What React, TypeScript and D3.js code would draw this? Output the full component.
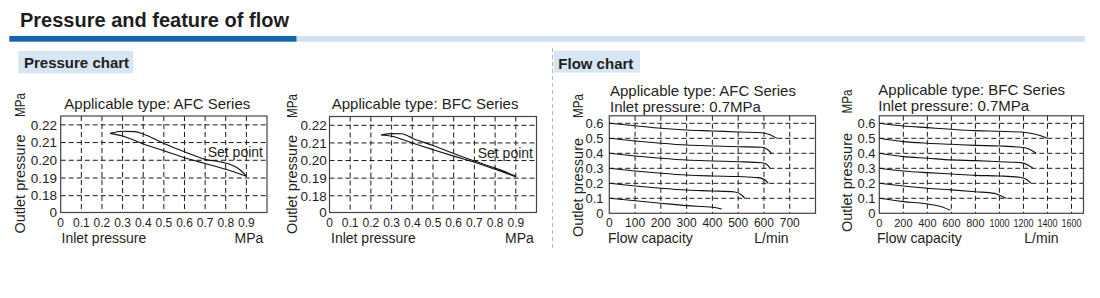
import React from "react";
import * as d3 from "d3";

const FONT = "'Liberation Sans', Arial, Helvetica, sans-serif";
const INK = "#231f20";

// ---------- Pressure charts (outlet vs inlet pressure) ----------
const pressureXTicks = [0, 0.1, 0.2, 0.3, 0.4, 0.5, 0.6, 0.7, 0.8, 0.9];
const pressureXLabels = ["0", "0.1", "0.2", "0.3", "0.4", "0.5", "0.6", "0.7", "0.8", "0.9"];
const pressureXGrid = [0.1, 0.2, 0.3, 0.4, 0.5, 0.6, 0.7, 0.8, 0.9];
const pressureXDomain = [0, 1.0];
const pressureYDomain = [0.1705, 0.225]; // broken axis: bottom edge is labelled "0"
const pressureYTicks = [0.1705, 0.18, 0.19, 0.2, 0.21, 0.22];
const pressureYLabels = ["0", "0.18", "0.19", "0.20", "0.21", "0.22"];
const pressureYGrid = [0.18, 0.19, 0.2, 0.21, 0.22];

const afcPressureUpper: [number, number][] = [
  [0.24, 0.2152], [0.3, 0.2164], [0.36, 0.2162], [0.4, 0.2148], [0.5, 0.2095],
  [0.6, 0.2048], [0.7, 0.2005], [0.77, 0.1992], [0.82, 0.1977], [0.87, 0.1945], [0.9, 0.191],
];
const afcPressureLower: [number, number][] = [
  [0.24, 0.2152], [0.3, 0.2137], [0.4, 0.2092], [0.5, 0.2054], [0.6, 0.2014],
  [0.7, 0.1982], [0.8, 0.1949], [0.9, 0.191],
];
const bfcPressureUpper: [number, number][] = [
  [0.25, 0.2145], [0.3, 0.2153], [0.35, 0.2152], [0.4, 0.2127], [0.5, 0.2085],
  [0.6, 0.204], [0.7, 0.1997], [0.8, 0.1957], [0.9, 0.1912],
];
const bfcPressureLower: [number, number][] = [
  [0.25, 0.2145], [0.3, 0.2138], [0.4, 0.21], [0.5, 0.2062], [0.6, 0.2025],
  [0.7, 0.199], [0.8, 0.195], [0.9, 0.1908],
];

// ---------- Flow charts (outlet pressure vs flow) ----------
const flowYDomain = [0, 0.65];
const flowYTicks = [0, 0.1, 0.2, 0.3, 0.4, 0.5, 0.6];
const flowYLabels = ["0", "0.1", "0.2", "0.3", "0.4", "0.5", "0.6"];
const flowYGrid = [0.1, 0.2, 0.3, 0.4, 0.5, 0.6];

const afcFlowXDomain = [0, 800];
const afcFlowXTicks = [0, 100, 200, 300, 400, 500, 600, 700];
const afcFlowXLabels = ["0", "100", "200", "300", "400", "500", "600", "700"];
const afcFlowXGrid = [100, 200, 300, 400, 500, 600, 700];

const bfcFlowXDomain = [0, 1700];
const bfcFlowXTicks = [0, 200, 400, 600, 800, 1000, 1200, 1400, 1600];
const bfcFlowXLabels = ["0", "200", "400", "600", "800", "1000", "1200", "1400", "1600"];
const bfcFlowXGrid = [200, 400, 600, 800, 1000, 1200, 1400, 1600];

const afcFlow06: [number, number][] = [[0, 0.6], [100, 0.584], [200, 0.567], [300, 0.555], [400, 0.549], [500, 0.542], [592, 0.537], [618, 0.527], [650, 0.5]];
const afcFlow05: [number, number][] = [[0, 0.5], [100, 0.482], [200, 0.467], [300, 0.455], [400, 0.449], [500, 0.444], [592, 0.44], [612, 0.427], [630, 0.4]];
const afcFlow04: [number, number][] = [[0, 0.4], [100, 0.382], [200, 0.367], [300, 0.355], [400, 0.349], [500, 0.344], [592, 0.337], [610, 0.327], [624, 0.3]];
const afcFlow03: [number, number][] = [[0, 0.3], [100, 0.282], [200, 0.267], [300, 0.255], [400, 0.249], [500, 0.245], [578, 0.238], [604, 0.222], [617, 0.2]];
const afcFlow02: [number, number][] = [[0, 0.2], [100, 0.182], [200, 0.167], [300, 0.155], [400, 0.149], [487, 0.142], [513, 0.122], [526, 0.1]];
const afcFlow01: [number, number][] = [[0, 0.1], [100, 0.084], [200, 0.067], [300, 0.051], [400, 0.04], [436, 0.029]];

const bfcFlow06: [number, number][] = [[0, 0.6], [200, 0.582], [400, 0.571], [600, 0.56], [800, 0.551], [1000, 0.547], [1200, 0.54], [1290, 0.529], [1350, 0.516], [1400, 0.5]];
const bfcFlow05: [number, number][] = [[0, 0.5], [200, 0.478], [400, 0.467], [600, 0.46], [800, 0.453], [1000, 0.449], [1180, 0.44], [1250, 0.427], [1305, 0.4]];
const bfcFlow04: [number, number][] = [[0, 0.4], [200, 0.378], [400, 0.367], [600, 0.356], [800, 0.351], [1000, 0.344], [1180, 0.338], [1237, 0.322], [1278, 0.3]];
const bfcFlow03: [number, number][] = [[0, 0.3], [200, 0.282], [400, 0.271], [600, 0.262], [800, 0.253], [1000, 0.249], [1168, 0.24], [1223, 0.227], [1265, 0.2]];
const bfcFlow02: [number, number][] = [[0, 0.2], [200, 0.182], [400, 0.167], [600, 0.156], [800, 0.144], [960, 0.133], [1015, 0.116], [1057, 0.1]];
const bfcFlow01: [number, number][] = [[0, 0.1], [200, 0.078], [400, 0.062], [517, 0.044], [592, 0.02]];

// ---------- Texts ----------
const headerTitle = "Pressure and feature of flow";
const pressureSection = "Pressure chart";
const flowSection = "Flow chart";
const titleAFC = "Applicable type: AFC Series";
const titleBFC = "Applicable type: BFC Series";
const inletLine = "Inlet pressure: 0.7MPa";
const setPointText = "Set point";

type Series = [number, number][];

interface PanelProps {
  frame: { left: number; right: number; top: number; bottom: number };
  xDomain: number[];
  yDomain: number[];
  xTicks: number[];
  xLabels: string[];
  xGrid: number[];
  yTicks: number[];
  yLabels: string[];
  yGrid: number[];
  series: Series[];
  titles: string[];
  titleX: number;
  titleYs: number[];
  yAxisX: number;
  outletY: number;
  mpaY: number;
  yTickRight: number;
  yTickSize: number;
  xTickY: number;
  xTickSize: number;
  xTickCompress?: boolean;
  xName: string;
  xNameX: number;
  xUnit: string;
  xUnitX: number;
  xNameY: number;
  note?: { text: string; x: number; y: number };
}

function Panel(p: PanelProps) {
  const { frame } = p;
  const x = d3.scaleLinear().domain(p.xDomain).range([frame.left, frame.right]);
  const y = d3.scaleLinear().domain(p.yDomain).range([frame.bottom, frame.top]);
  const line = d3
    .line<[number, number]>()
    .x((d) => x(d[0]))
    .y((d) => y(d[1]))
    .curve(d3.curveMonotoneX);

  return (
    <g>
      {p.titles.map((t, i) => (
        <text key={"t" + i} x={p.titleX} y={p.titleYs[i]} fontSize={15} fill={INK}>
          {t}
        </text>
      ))}
      {p.note && (
        <text x={p.note.x} y={p.note.y} fontSize={14} fill={INK}>
          {p.note.text}
        </text>
      )}
      {/* grid */}
      {p.yGrid.map((v) => (
        <line key={"gy" + v} x1={frame.left} x2={frame.right} y1={y(v)} y2={y(v)} stroke="#1a1a1a" strokeWidth={1} strokeDasharray="5,3" />
      ))}
      {p.xGrid.map((v) => (
        <line key={"gx" + v} x1={x(v)} x2={x(v)} y1={frame.top} y2={frame.bottom} stroke="#1a1a1a" strokeWidth={1} strokeDasharray="5,3" />
      ))}
      {/* frame */}
      <rect
        x={frame.left}
        y={frame.top}
        width={frame.right - frame.left}
        height={frame.bottom - frame.top}
        fill="none"
        stroke="#444"
        strokeWidth={1.2}
      />
      {/* curves */}
      {p.series.map((s, i) => (
        <path key={"s" + i} d={line(s) || ""} fill="none" stroke="#111" strokeWidth={1.1} />
      ))}
      {/* y tick labels */}
      {p.yTicks.map((v, i) => (
        <text key={"yl" + i} x={p.yTickRight} y={y(v) + 4.8} fontSize={p.yTickSize} textAnchor="end" fill={INK}>
          {p.yLabels[i]}
        </text>
      ))}
      {/* x tick labels */}
      {p.xTicks.map((v, i) => {
        const lab = p.xLabels[i];
        const extra: any = {};
        if (p.xTickCompress && lab.length >= 4) {
          extra.textLength = 20;
          extra.lengthAdjust = "spacingAndGlyphs";
        }
        return (
          <text key={"xl" + i} x={x(v)} y={p.xTickY} fontSize={p.xTickSize} textAnchor="middle" fill={INK} {...extra}>
            {lab}
          </text>
        );
      })}
      {/* axis names */}
      <text x={p.xNameX} y={p.xNameY} fontSize={14} fill={INK}>
        {p.xName}
      </text>
      <text x={p.xUnitX} y={p.xNameY} fontSize={14} fill={INK}>
        {p.xUnit}
      </text>
      <text transform={`translate(${p.yAxisX},${p.outletY}) rotate(-90)`} fontSize={14.5} textAnchor="middle" fill={INK}>
        Outlet pressure
      </text>
      <text
        transform={`translate(${p.yAxisX},${p.mpaY}) rotate(-90)`}
        fontSize={14.5}
        textAnchor="middle"
        fill={INK}
        textLength={24}
        lengthAdjust="spacingAndGlyphs"
      >
        MPa
      </text>
    </g>
  );
}

export default function App() {
  return (
    <svg
      width={1100}
      height={298}
      viewBox="0 0 1100 298"
      style={{ position: "absolute", left: 0, top: 0, background: "#fff" }}
      fontFamily={FONT}
    >
      <rect x={0} y={0} width={1100} height={298} fill="#fff" />
      {/* header */}
      <text x={20} y={27.3} fontSize={20} fontWeight="bold" fill="#1e1e1e">
        {headerTitle}
      </text>
      <rect x={9.3} y={36} width={287.4} height={5.7} fill="#1565b4" />
      <rect x={296.7} y={36} width={788.3} height={5.7} fill="#cfe1f3" />

      {/* section labels */}
      <rect x={18.3} y={51} width={115} height={22.3} fill="#d6e6f5" />
      <text x={24} y={68.3} fontSize={15} fontWeight="bold" fill="#1e1e1e">
        {pressureSection}
      </text>
      <rect x={553.5} y={50.5} width={86.5} height={22} fill="#d6e6f5" />
      <text x={558.3} y={68.5} fontSize={15} fontWeight="bold" fill="#1e1e1e">
        {flowSection}
      </text>
      <line x1={552.5} x2={552.5} y1={48} y2={250} stroke="#b8b8b8" strokeWidth={1} strokeDasharray="4,3" />

      <Panel
        frame={{ left: 60.7, right: 267, top: 116, bottom: 212.5 }}
        xDomain={pressureXDomain}
        yDomain={pressureYDomain}
        xTicks={pressureXTicks}
        xLabels={pressureXLabels}
        xGrid={pressureXGrid}
        yTicks={pressureYTicks}
        yLabels={pressureYLabels}
        yGrid={pressureYGrid}
        series={[afcPressureUpper, afcPressureLower]}
        titles={[titleAFC]}
        titleX={64.3}
        titleYs={[109]}
        yAxisX={24.5}
        outletY={184}
        mpaY={105}
        yTickRight={57}
        yTickSize={13.5}
        xTickY={227}
        xTickSize={12}
        xName="Inlet pressure"
        xNameX={61.5}
        xUnit="MPa"
        xUnitX={234.5}
        xNameY={243}
        note={{ text: setPointText, x: 207.7, y: 156.7 }}
      />
      <Panel
        frame={{ left: 329.5, right: 536.5, top: 116.5, bottom: 212.5 }}
        xDomain={pressureXDomain}
        yDomain={pressureYDomain}
        xTicks={pressureXTicks}
        xLabels={pressureXLabels}
        xGrid={pressureXGrid}
        yTicks={pressureYTicks}
        yLabels={pressureYLabels}
        yGrid={pressureYGrid}
        series={[bfcPressureUpper, bfcPressureLower]}
        titles={[titleBFC]}
        titleX={331.7}
        titleYs={[109]}
        yAxisX={296.5}
        outletY={184.5}
        mpaY={106}
        yTickRight={326.7}
        yTickSize={13.5}
        xTickY={227}
        xTickSize={12}
        xName="Inlet pressure"
        xNameX={331}
        xUnit="MPa"
        xUnitX={505}
        xNameY={243}
        note={{ text: setPointText, x: 477.7, y: 158.3 }}
      />
      <Panel
        frame={{ left: 609.3, right: 815.5, top: 115.8, bottom: 213.3 }}
        xDomain={afcFlowXDomain}
        yDomain={flowYDomain}
        xTicks={afcFlowXTicks}
        xLabels={afcFlowXLabels}
        xGrid={afcFlowXGrid}
        yTicks={flowYTicks}
        yLabels={flowYLabels}
        yGrid={flowYGrid}
        series={[afcFlow06, afcFlow05, afcFlow04, afcFlow03, afcFlow02, afcFlow01]}
        titles={[titleAFC, inletLine]}
        titleX={610}
        titleYs={[95.7, 111.7]}
        yAxisX={583}
        outletY={187.5}
        mpaY={106}
        yTickRight={603.5}
        yTickSize={13}
        xTickY={227.3}
        xTickSize={12}
        xName="Flow capacity"
        xNameX={608}
        xUnit="L/min"
        xUnitX={754.3}
        xNameY={243}
      />
      <Panel
        frame={{ left: 879.3, right: 1083.5, top: 115.8, bottom: 213.3 }}
        xDomain={bfcFlowXDomain}
        yDomain={flowYDomain}
        xTicks={bfcFlowXTicks}
        xLabels={bfcFlowXLabels}
        xGrid={bfcFlowXGrid}
        yTicks={flowYTicks}
        yLabels={flowYLabels}
        yGrid={flowYGrid}
        series={[bfcFlow06, bfcFlow05, bfcFlow04, bfcFlow03, bfcFlow02, bfcFlow01]}
        titles={[titleBFC, inletLine]}
        titleX={878.3}
        titleYs={[94.5, 110.5]}
        yAxisX={851.5}
        outletY={182.5}
        mpaY={101.5}
        yTickRight={875.5}
        yTickSize={13}
        xTickY={227}
        xTickSize={11}
        xTickCompress
        xName="Flow capacity"
        xNameX={877}
        xUnit="L/min"
        xUnitX={1024.3}
        xNameY={242.5}
      />
    </svg>
  );
}
